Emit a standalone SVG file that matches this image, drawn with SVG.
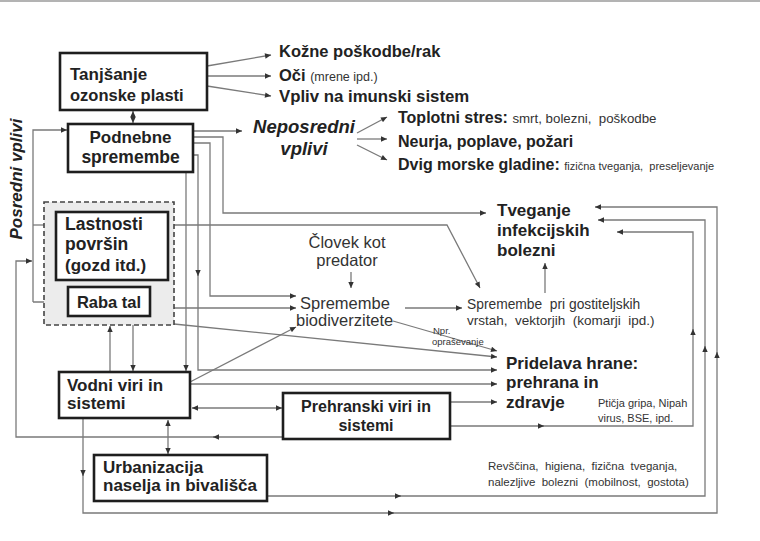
<svg xmlns="http://www.w3.org/2000/svg" width="760" height="541" viewBox="0 0 760 541">
<style>
.box{fill:#fff;stroke:#1e1e1e;stroke-width:2.6}
.c{fill:none;stroke:#7a7a7a;stroke-width:1.3}
.b{font-family:"Liberation Sans",Arial,sans-serif;font-weight:bold;fill:#222}
.r{font-family:"Liberation Sans",Arial,sans-serif;fill:#333;white-space:pre}
</style>
<defs>
<marker id="a" viewBox="0 0 10 10" refX="10" refY="5" markerWidth="7" markerHeight="6" markerUnits="userSpaceOnUse" orient="auto-start-reverse"><path d="M0,0.5 L10,5 L0,9.5 z" fill="#333"/></marker>
</defs>
<rect width="760" height="541" fill="#fff"/>
<line x1="0" y1="1" x2="760" y2="1" stroke="#9a9a9a" stroke-width="1.5"/>

<g id="posredni-label"><text class="b" font-style="italic" font-size="17" transform="translate(22,179) rotate(-90)" text-anchor="middle">Posredni vplivi</text></g>

<g id="connectors">
<path class="c" d="M207,66 L271,55" marker-end="url(#a)"/>
<path class="c" d="M207,76 L271,76" marker-end="url(#a)"/>
<path class="c" d="M207,86 L271,96" marker-end="url(#a)"/>
<path class="c" d="M133,111 L133,123" marker-start="url(#a)" marker-end="url(#a)"/>
<path class="c" d="M193,131 L242,131" marker-end="url(#a)"/>
<path class="c" d="M357,133 L387,117" marker-end="url(#a)"/>
<path class="c" d="M357,139 L387,139" marker-end="url(#a)"/>
<path class="c" d="M357,145 L387,160" marker-end="url(#a)"/>
<path class="c" d="M33,302 L33,130 L67,130" marker-end="url(#a)"/>
<path class="c" d="M33,302 L67,302" marker-end="url(#a)"/>
<path class="c" d="M33,225 L55,225" marker-end="url(#a)"/>
<path class="c" d="M283,437 L16,437 L16,261 L32,261" marker-end="url(#a)"/>
<path class="c" d="M214,437 L213,437" marker-end="url(#a)"/>
<path class="c" d="M110,287 L110,281" marker-end="url(#a)"/>
<path class="c" d="M110,372 L110,326" marker-end="url(#a)"/>
<path class="c" d="M133,325 L133,371" marker-end="url(#a)"/>
<path class="c" d="M186,172 L186,371" marker-end="url(#a)"/>
<path class="c" d="M193,155 L198,155 L198,370 L497,370" marker-end="url(#a)"/>
<path class="c" d="M198,274 L198,276" marker-end="url(#a)"/>
<path class="c" d="M193,143 L210,143 L210,296 L296,296" marker-end="url(#a)"/>
<path class="c" d="M193,137 L223,137 L223,213 L486,213" marker-end="url(#a)"/>
<path class="c" d="M174,225 L447,225 L480,288" marker-end="url(#a)"/>
<path class="c" d="M174,308 L296,308" marker-end="url(#a)"/>
<path class="c" d="M174,324 L497,357" marker-end="url(#a)"/>
<path class="c" d="M393,321 L497,351" marker-end="url(#a)"/>
<path class="c" d="M351,272 L351,288" marker-end="url(#a)"/>
<path class="c" d="M405,308 L462,308" marker-end="url(#a)"/>
<path class="c" d="M545,293 L545,263" marker-end="url(#a)"/>
<path class="c" d="M190,382 L296,327" marker-end="url(#a)"/>
<path class="c" d="M190,384 L497,384" marker-end="url(#a)"/>
<path class="c" d="M192,408 L282,408" marker-start="url(#a)" marker-end="url(#a)"/>
<path class="c" d="M450,402 L497,402" marker-end="url(#a)"/>
<path class="c" d="M450,426 L693,426 L693,232 L617,232" marker-end="url(#a)"/>
<path class="c" d="M542,426 L544,426" marker-end="url(#a)"/>
<path class="c" d="M693,331 L693,329" marker-end="url(#a)"/>
<path class="c" d="M168,420 L168,454" marker-start="url(#a)" marker-end="url(#a)"/>
<path class="c" d="M267,496 L705,496 L705,220 L598,220" marker-end="url(#a)"/>
<path class="c" d="M399,496 L401,496" marker-end="url(#a)"/>
<path class="c" d="M705,348 L705,346" marker-end="url(#a)"/>
<path class="c" d="M83,418 L83,513 L717,513 L717,207 L595,207" marker-end="url(#a)"/>
<path class="c" d="M83,474 L83,476" marker-end="url(#a)"/>
<path class="c" d="M392,513 L394,513" marker-end="url(#a)"/>
<path class="c" d="M717,354 L717,352" marker-end="url(#a)"/>
</g>

<g id="tanjsanje"><rect class="box" x="60" y="53" width="147" height="57"/>
<text class="b" font-size="17" x="70" y="80">Tanjšanje</text>
<text class="b" font-size="16.5" x="70" y="101">ozonske plasti</text></g>

<g id="ozone-effects">
<text class="b" font-size="16.5" x="279" y="57">Kožne poškodbe/rak</text>
<text class="b" font-size="16.5" x="279" y="81">Oči <tspan class="r" font-weight="normal" font-size="12.5" fill="#444">(mrene ipd.)</tspan></text>
<text class="b" font-size="16.8" x="279" y="102">Vpliv na imunski sistem</text>
</g>

<g id="podnebne"><rect class="box" x="68" y="124" width="125" height="48"/>
<text class="b" font-size="17" x="130.5" y="143" text-anchor="middle">Podnebne</text>
<text class="b" font-size="17.5" x="130.5" y="163" text-anchor="middle">spremembe</text></g>

<g id="neposredni">
<text class="b" font-style="italic" font-size="18.5" x="304" y="133" text-anchor="middle">Neposredni</text>
<text class="b" font-style="italic" font-size="18.5" x="304" y="155" text-anchor="middle">vplivi</text>
</g>

<g id="direct-effects">
<text class="b" font-size="16" x="398" y="123">Toplotni stres: <tspan class="r" font-weight="normal" font-size="13.3" fill="#444">smrt, bolezni,  poškodbe</tspan></text>
<text class="b" font-size="16" x="398" y="147">Neurja, poplave, požari</text>
<text class="b" font-size="16" x="398" y="170">Dvig morske gladine: <tspan class="r" font-weight="normal" font-size="11" fill="#444">fizična tveganja,  preseljevanje</tspan></text>
</g>

<g id="povrsine">
<rect x="44" y="202" width="130" height="123" fill="#ececec" stroke="#444" stroke-width="1.6" stroke-dasharray="5,3"/>
<g id="lastnosti"><rect class="box" x="56" y="212" width="112" height="68"/>
<text class="b" font-size="17.5" x="65" y="230">Lastnosti</text>
<text class="b" font-size="17.5" x="65" y="250">površin</text>
<text class="b" font-size="17" x="65" y="271">(gozd itd.)</text></g>
<g id="raba-tal"><rect class="box" x="68" y="287" width="82" height="29"/>
<text class="b" font-size="16.5" x="109" y="308" text-anchor="middle">Raba tal</text></g>
</g>

<g id="tveganje">
<text class="b" font-size="17" x="497" y="216">Tveganje</text>
<text class="b" font-size="17" x="497" y="236">infekcijskih</text>
<text class="b" font-size="17" x="497" y="256">bolezni</text>
</g>

<g id="clovek">
<text class="r" font-size="16.5" x="347" y="248" text-anchor="middle">Človek kot</text>
<text class="r" font-size="16.5" x="347" y="266" text-anchor="middle">predator</text>
</g>

<g id="biodiverziteta">
<text class="r" font-size="16.5" x="300" y="309">Spremembe</text>
<text class="r" font-size="16.5" x="296" y="326">biodiverzitete</text>
</g>

<g id="gostitelji">
<text class="r" font-size="13.8" x="467" y="309">Spremembe  pri gostiteljskih</text>
<text class="r" font-size="13.5" x="467" y="325">vrstah,  vektorjih  (komarji  ipd.)</text>
</g>

<g id="npr">
<text class="r" font-size="9.5" x="433" y="334">Npr.</text>
<text class="r" font-size="9.5" x="432" y="345">opraševanje</text>
</g>

<g id="pridelava">
<text class="b" font-size="17" x="506" y="369">Pridelava hrane:</text>
<text class="b" font-size="17" x="506" y="388">prehrana in</text>
<text class="b" font-size="17" x="506" y="408">zdravje</text>
</g>

<g id="vodni"><rect class="box" x="59" y="372" width="131" height="46"/>
<text class="b" font-size="17" x="67" y="391">Vodni viri in</text>
<text class="b" font-size="17" x="67" y="409">sistemi</text></g>

<g id="prehranski"><rect class="box" x="283" y="393" width="167" height="46"/>
<text class="b" font-size="16" x="366" y="412" text-anchor="middle">Prehranski viri in</text>
<text class="b" font-size="16" x="366" y="431" text-anchor="middle">sistemi</text></g>

<g id="pticja">
<text class="r" font-size="11" x="598" y="407">Ptičja gripa, Nipah</text>
<text class="r" font-size="11" x="598" y="422">virus, BSE, ipd.</text>
</g>

<g id="urbanizacija"><rect class="box" x="94" y="455" width="173" height="46"/>
<text class="b" font-size="17" x="103" y="473">Urbanizacija</text>
<text class="b" font-size="17" x="103" y="491">naselja in bivališča</text></g>

<g id="revscina">
<text class="r" font-size="11.5" x="488" y="470">Revščina,  higiena,  fizična  tveganja,</text>
<text class="r" font-size="11.5" x="488" y="486">nalezljive  bolezni  (mobilnost,  gostota)</text>
</g>
</svg>
